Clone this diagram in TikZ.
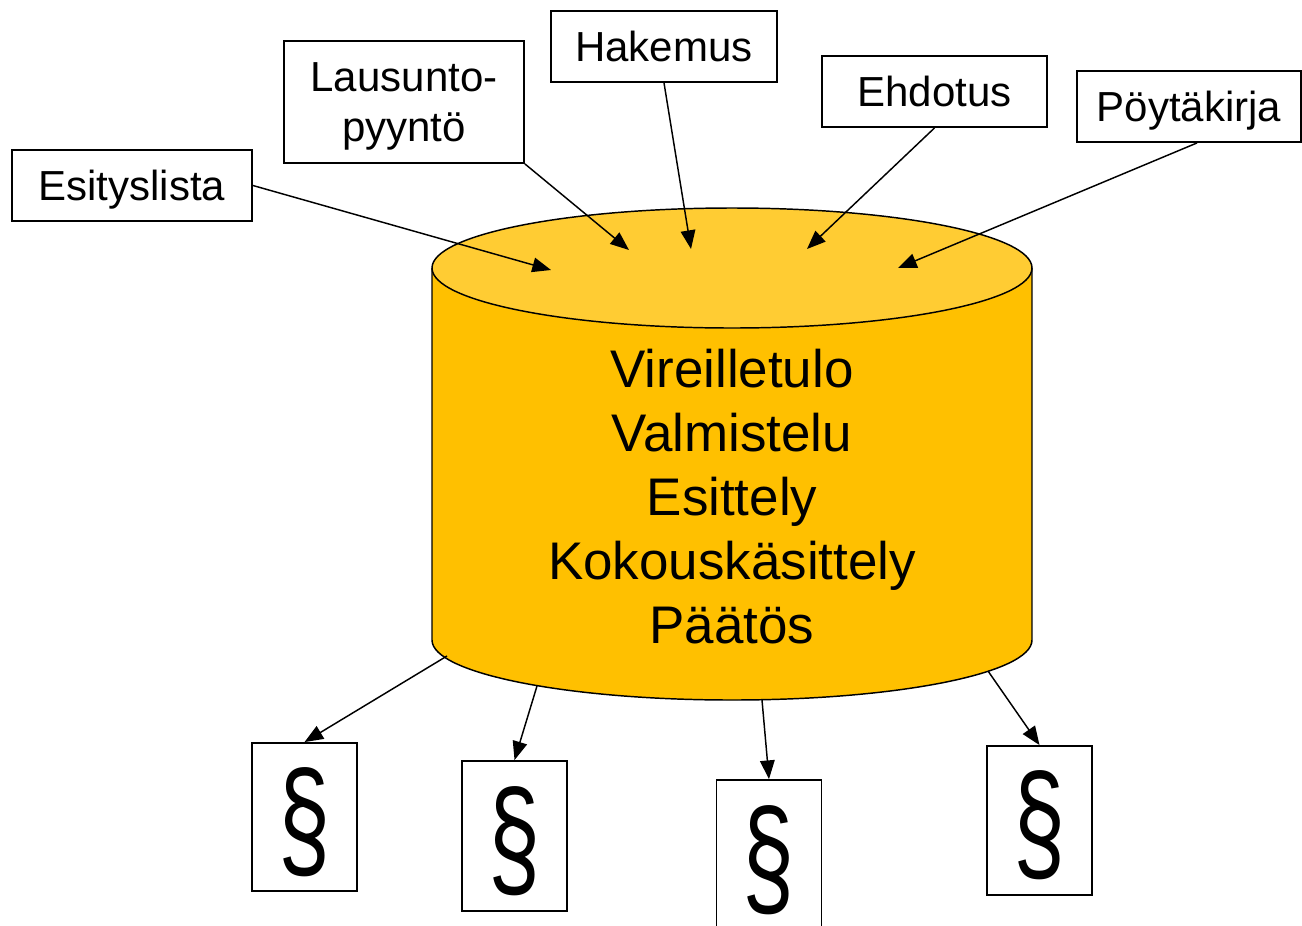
\documentclass[tikz,border=0pt]{standalone}
\usepackage{fontspec}
\setmainfont{Liberation Sans}
\usetikzlibrary{arrows.meta}
\definecolor{cyltop}{HTML}{FFCC33}
\definecolor{cylbody}{HTML}{FFC000}
\newcommand{\parasign}{\raisebox{-36pt}{\scalebox{0.9}[1.3]{§}}}
\begin{document}
\begin{tikzpicture}[x=0.75pt,y=-0.75pt,
  label box/.style={draw,line width=1.4pt,fill=white,inner sep=0pt,minimum height=53.25pt,text depth=0pt,align=center,font=\fontsize{31.5}{37.5}\selectfont},
  para box/.style={draw,line width=1.4pt,fill=white,inner sep=0pt,minimum width=78.75pt,text height=0pt,text depth=0pt,font=\fontsize{78}{80}\selectfont},
  conn/.style={line width=1.1pt,-{Triangle[length=14pt,width=11pt]}},
  cyl line/.style={line width=1.1pt}]
\useasboundingbox (0,0) rectangle (1302,925);
% cylinder
\fill[cylbody] (432,268) rectangle (1032,640);
\fill[cylbody] (732,640) ellipse [x radius=300, y radius=60];
\draw[cyl line] (432,268) -- (432,640) arc[start angle=180,end angle=0,x radius=300,y radius=60] -- (1032,268);
\draw[cyl line,fill=cyltop] (732,268) ellipse [x radius=300, y radius=60];
\node[align=center,font=\fontsize{39.7}{48}\selectfont] (cyltext) at (732,497) {Vireilletulo\\Valmistelu\\Esittely\\Kokouskäsittely\\Päätös};
% top labels
\node[label box,minimum width=180pt] (esit) at (132,185.5) {Esityslista};
\node[label box,minimum width=180pt,minimum height=91.5pt] (laus) at (404,102) {Lausunto-\\pyyntö};
\node[label box,minimum width=169.5pt] (hake) at (664,46.5) {Hakemus};
\node[label box,minimum width=168.75pt] (ehdo) at (934.5,91.5) {Ehdotus};
\node[label box,minimum width=168pt] (poyt) at (1189,106.5) {Pöytäkirja};
% arrow targets on the cylinder top
\coordinate (t1) at (551,270);
\coordinate (t2) at (629,250);
\coordinate (t3) at (691,249);
\coordinate (t4) at (807,249);
\coordinate (t5) at (898,268);
\draw[conn] (esit.east) -- (t1);
\draw[conn] (laus.south east) -- (t2);
\draw[conn] (hake.south) -- (t3);
\draw[conn] (ehdo.south) -- (t4);
\draw[conn] ([xshift=6pt]poyt.south) -- (t5);
% paragraph boxes
\node[para box,minimum height=111pt] (p1) at (304.5,817) {\parasign};
\node[para box,minimum height=112.5pt] (p2) at (514.5,836) {\parasign};
\node[para box,minimum height=112.5pt] (p3) at (769,855) {\parasign};
\node[para box,minimum height=111.75pt] (p4) at (1039.5,820.5) {\parasign};
% arrow sources on the cylinder bottom
\coordinate (b1) at (447,656);
\coordinate (b2) at (537,686);
\coordinate (b3) at (762,700);
\coordinate (b4) at (988,671);
\draw[conn] (b1) -- (p1.north);
\draw[conn] (b2) -- (p2.north);
\draw[conn] (b3) -- (p3.north);
\draw[conn] (b4) -- (p4.north);
\end{tikzpicture}
\end{document}
